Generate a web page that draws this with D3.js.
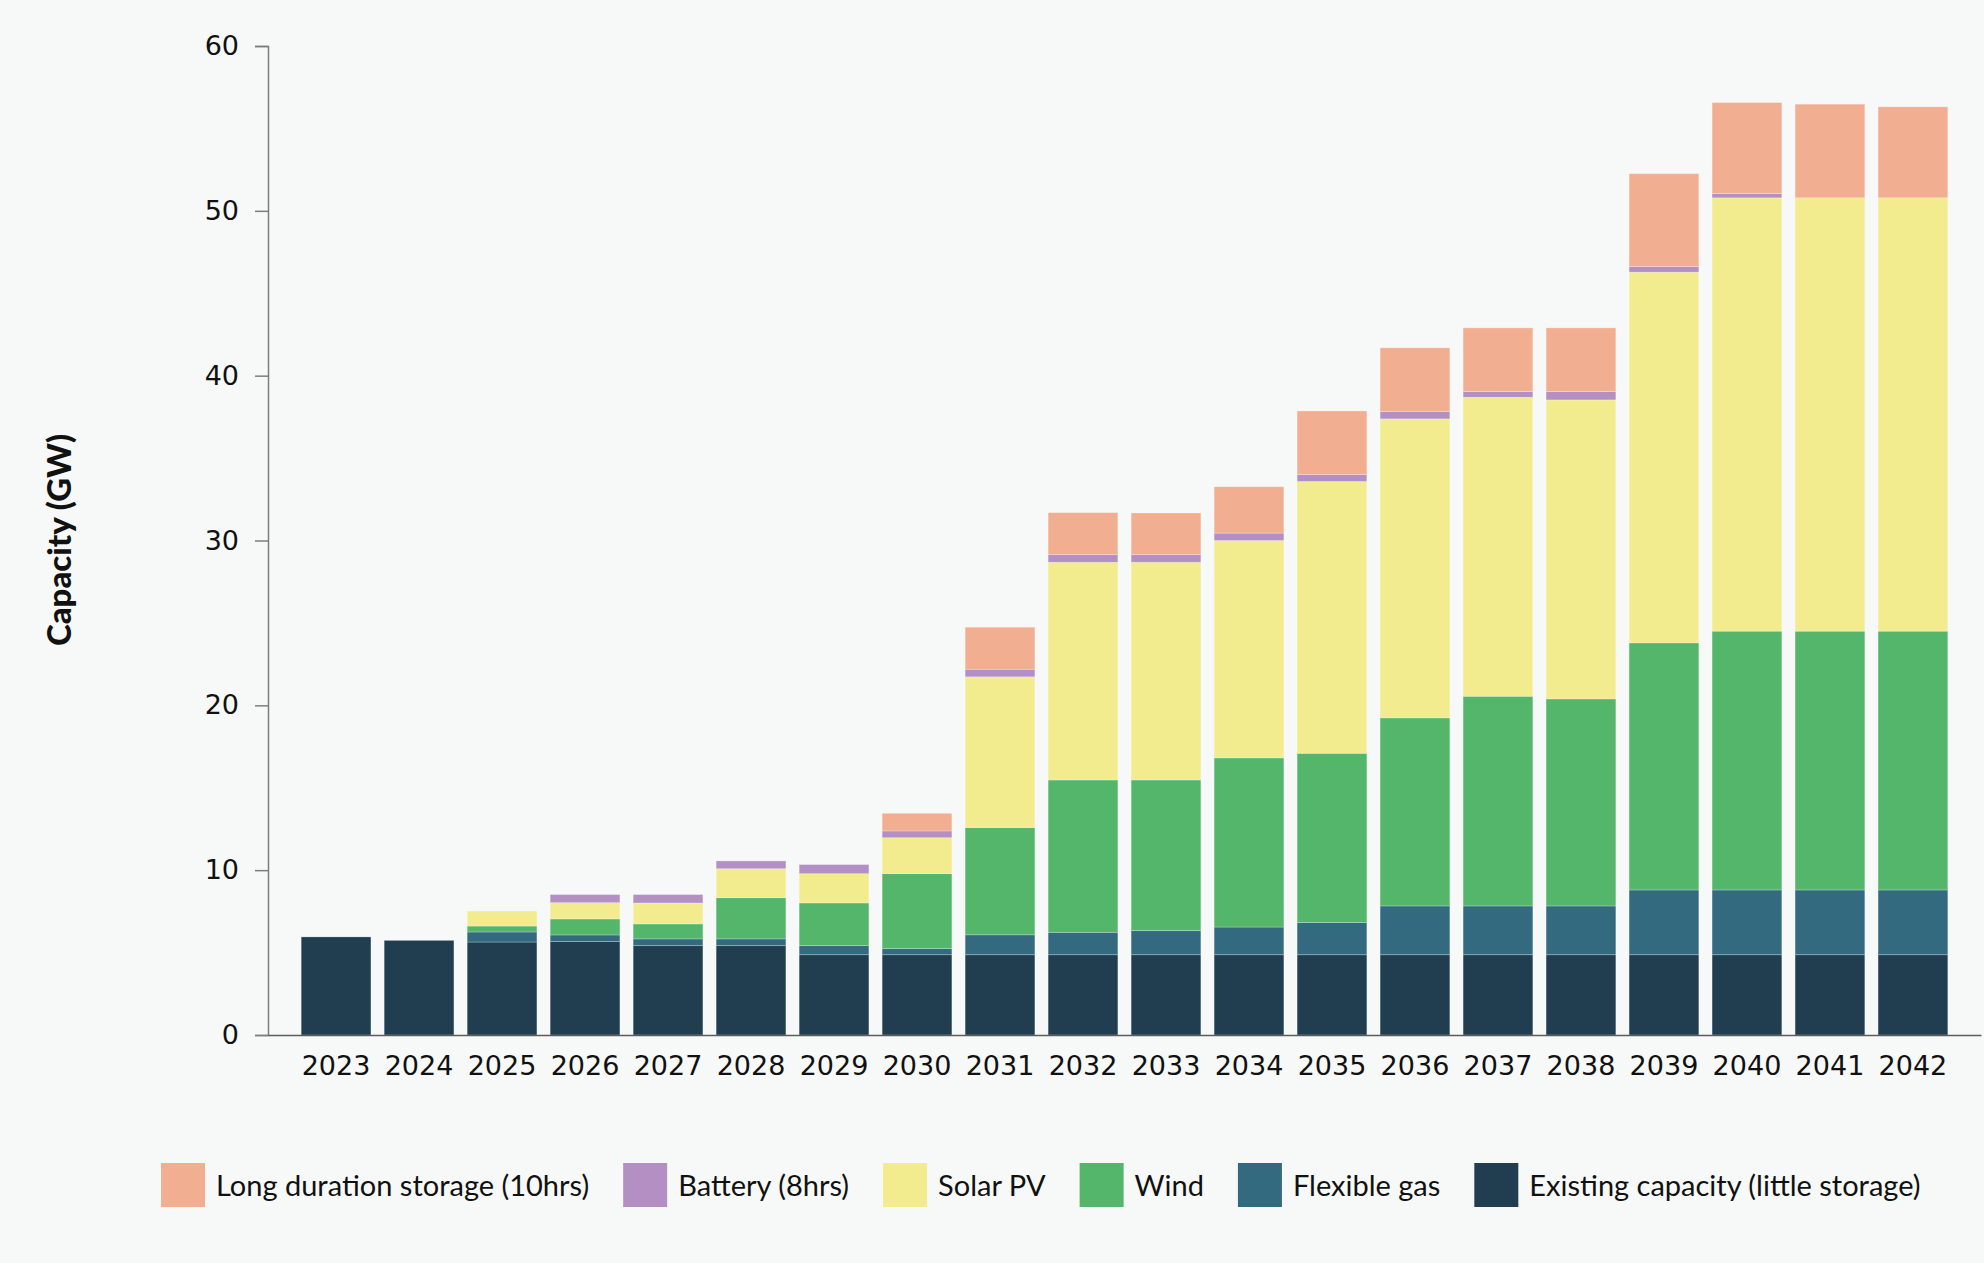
<!DOCTYPE html>
<html>
<head>
<meta charset="utf-8">
<script src="https://cdn.jsdelivr.net/npm/d3@7"></script>
<style>
  html, body { margin: 0; padding: 0; background: #f7f9f8; }
  svg { display: block; }
</style>
</head>
<body>
<div id="chart"></div>
<script>
// values are GW added by each layer
const years = ["2023", "2024", "2025", "2026", "2027", "2028", "2029", "2030", "2031", "2032",
  "2033", "2034", "2035", "2036", "2037", "2038", "2039", "2040", "2041", "2042"];
const existing = [5.95, 5.74, 5.64, 5.68, 5.42, 5.42, 4.87, 4.87, 4.87, 4.87,
  4.87, 4.87, 4.87, 4.87, 4.87, 4.87, 4.87, 4.87, 4.87, 4.87];
const flexibleGas = [0, 0, 0.61, 0.39, 0.41, 0.41, 0.55, 0.37, 1.21, 1.36,
  1.46, 1.68, 1.95, 2.96, 2.96, 2.96, 3.93, 3.93, 3.93, 3.93];
const wind = [0, 0, 0.36, 0.97, 0.91, 2.50, 2.59, 4.55, 6.50, 9.24,
  9.14, 10.26, 10.27, 11.41, 12.72, 12.56, 14.99, 15.70, 15.70, 15.70];
const solarPV = [0, 0, 0.91, 0.99, 1.27, 1.76, 1.78, 2.18, 9.15, 13.21,
  13.21, 13.19, 16.49, 18.14, 18.14, 18.14, 22.49, 26.29, 26.29, 26.29];
const battery = [0, 0, 0, 0.49, 0.51, 0.47, 0.55, 0.41, 0.46, 0.46,
  0.46, 0.45, 0.42, 0.44, 0.35, 0.51, 0.34, 0.26, 0, 0];
const longDuration = [0, 0, 0, 0, 0, 0, 0, 1.07, 2.55, 2.55,
  2.53, 2.81, 3.86, 3.87, 3.86, 3.86, 5.63, 5.52, 5.68, 5.52];

const yTicks = [0, 10, 20, 30, 40, 50, 60];

// bottom to top
const series = [
  { key: "existing", label: "Existing capacity (little storage)", color: "#203e50", values: existing },
  { key: "gas", label: "Flexible gas", color: "#336a80", values: flexibleGas },
  { key: "wind", label: "Wind", color: "#53b66b", values: wind },
  { key: "solar", label: "Solar PV", color: "#f2ec8f", values: solarPV },
  { key: "battery", label: "Battery (8hrs)", color: "#b38fc3", values: battery },
  { key: "lds", label: "Long duration storage (10hrs)", color: "#f2ae91", values: longDuration }
];

const width = 1984,
  height = 1263;

const rows = years.map((y, i) => {
  const row = { year: y };
  series.forEach(s => { row[s.key] = s.values[i]; });
  return row;
});

const stacked = d3.stack().keys(series.map(s => s.key))(rows);

const svg = d3.select("#chart").append("svg")
  .attr("width", width)
  .attr("height", height);

svg.append("rect")
  .attr("width", width)
  .attr("height", height)
  .attr("fill", "#f7f9f8");

const x = d3.scaleBand()
  .domain(years)
  .range([268, 1981])
  .paddingInner(0.16)
  .paddingOuter(0.4);

const y = d3.scaleLinear()
  .domain([0, 60])
  .range([1035, 46]);

// bars
svg.append("g")
  .selectAll("g")
  .data(stacked)
  .join("g")
  .attr("fill", (d, i) => series[i].color)
  .selectAll("rect")
  .data(d => d.filter(p => p[1] - p[0] > 0))
  .join("rect")
  .attr("x", d => x(d.data.year))
  .attr("y", d => y(d[1]))
  .attr("width", x.bandwidth())
  .attr("height", d => y(d[0]) - y(d[1]))
  .attr("stroke", "#ffffff")
  .attr("stroke-opacity", 0.3)
  .attr("stroke-width", 0.8);

// y axis
const yAxis = svg.append("g")
  .attr("transform", "translate(268,0)")
  .call(d3.axisLeft(y).tickValues(yTicks).tickSize(13).tickPadding(16));
yAxis.select(".domain").attr("stroke", "#7d7d7d").attr("stroke-width", 1.5);
yAxis.selectAll(".tick line").attr("stroke", "#7d7d7d").attr("stroke-width", 1.5);
yAxis.selectAll(".tick text")
  .attr("fill", "#111")
  .style("font-family", "'DejaVu Sans', sans-serif")
  .style("font-size", "27px");

// x axis
const xAxis = svg.append("g")
  .attr("transform", "translate(0,1035)")
  .call(d3.axisBottom(x).tickSize(0).tickPadding(21));
xAxis.select(".domain").attr("stroke", "#5c5c5c").attr("stroke-width", 1.5);
xAxis.selectAll(".tick text")
  .attr("fill", "#111")
  .style("font-family", "'DejaVu Sans', sans-serif")
  .style("font-size", "27px");

// axis title
svg.append("text")
  .attr("transform", "translate(71,540) rotate(-90)")
  .attr("text-anchor", "middle")
  .attr("fill", "#111")
  .style("font-family", "Lato, sans-serif")
  .style("font-weight", "900")
  .style("font-size", "33px")
  .text("Capacity (GW)");

// legend, top layer first
const legend = svg.append("g").attr("transform", "translate(161,1163)");
let lx = 0;
series.slice().reverse().forEach(s => {
  const item = legend.append("g").attr("transform", `translate(${lx},0)`);
  item.append("rect")
    .attr("width", 44)
    .attr("height", 44)
    .attr("fill", s.color);
  const t = item.append("text")
    .attr("x", 55)
    .attr("y", 33)
    .attr("fill", "#111")
    .style("font-family", "Lato, sans-serif")
    .style("font-size", "29px")
    .text(s.label);
  lx += 55 + t.node().getComputedTextLength() + 34;
});
</script>
</body>
</html>
